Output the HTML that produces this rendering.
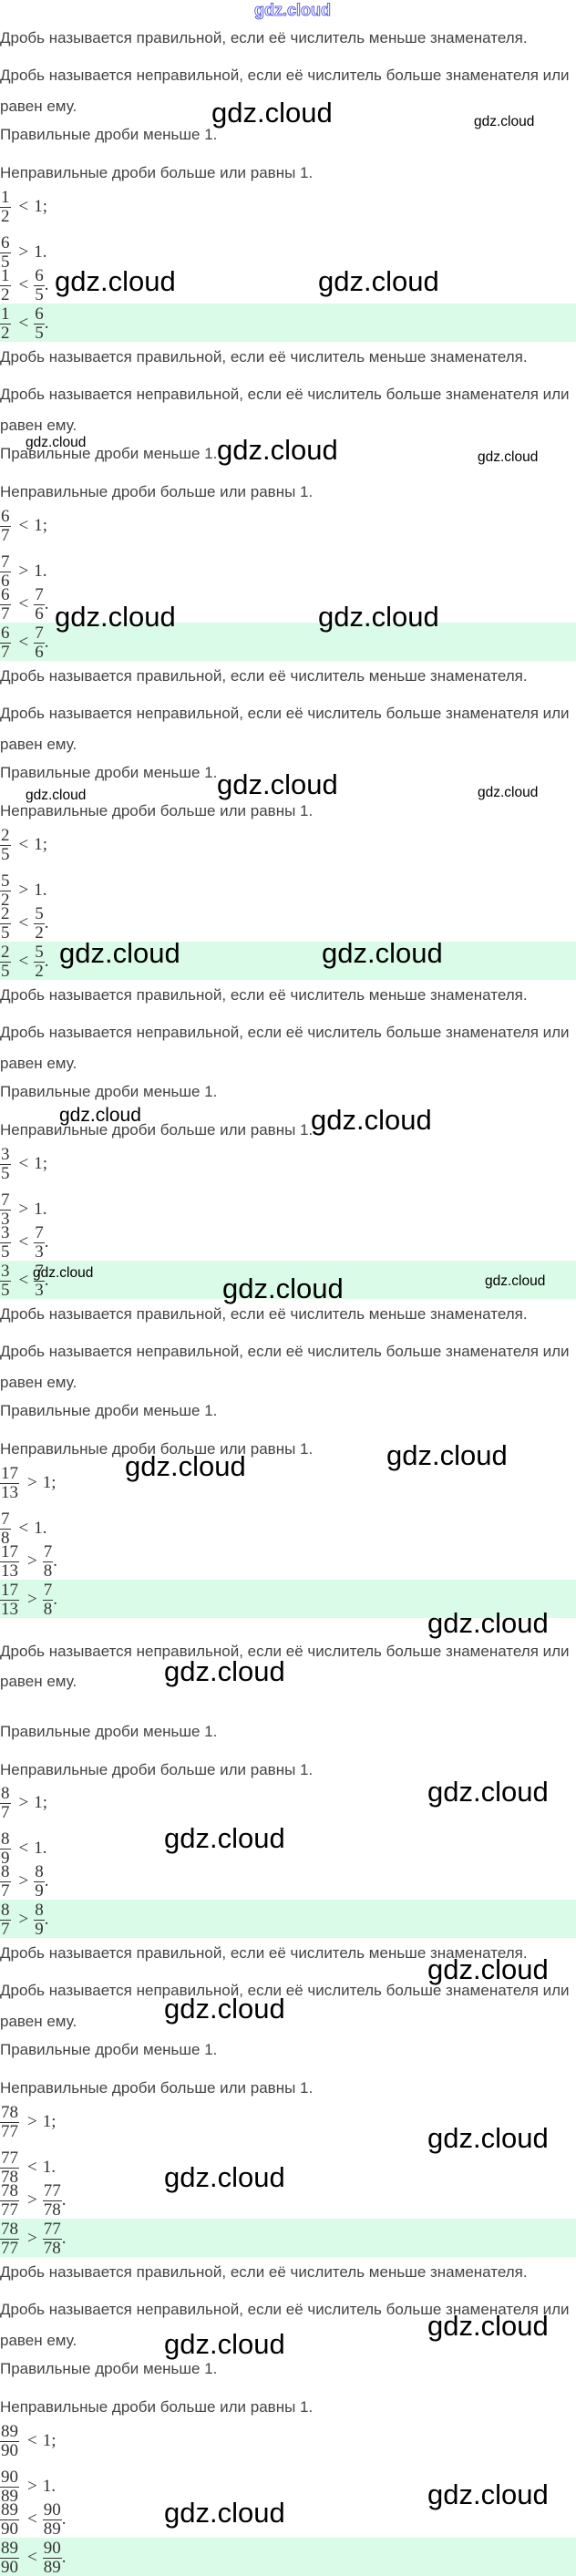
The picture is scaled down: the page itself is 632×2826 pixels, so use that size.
<!DOCTYPE html>
<html><head><meta charset="utf-8">
<style>
html,body{margin:0;padding:0;background:#fff;}
body{width:632px;height:2826px;position:relative;overflow:hidden;}
.t{position:absolute;left:0;font:17px/20px "Liberation Sans",sans-serif;color:#444;white-space:nowrap;}
.m{position:absolute;left:0;height:40px;display:flex;align-items:center;font:19px "Liberation Serif",serif;color:#333;white-space:nowrap;}
.f{display:inline-flex;flex-direction:column;align-items:center;line-height:20px;}
.f>span:first-child{border-bottom:1px solid #333;padding:0 1px;}
.o{margin:0 6px 0 9px;}
.g{position:absolute;left:0;width:632px;height:42px;background:#dafbe7;overflow:hidden;}
.w{position:absolute;font-family:"Liberation Sans",sans-serif;color:#000;line-height:1;white-space:nowrap;z-index:5;}
.L{font-size:31px;}
.S{font-size:15.5px;}
.M{font-size:21px;}
.logo{position:absolute;left:279px;top:2px;font:bold 18px/1 "Liberation Sans",sans-serif;color:#fff;-webkit-text-stroke:0.8px #3a3adf;}
</style></head><body>
<div class="logo">gdz.cloud</div>

<!-- Block 1 -->
<div class="t" style="top:32px">Дробь называется правильной, если её числитель меньше знаменателя.</div>
<div class="t" style="top:73px">Дробь называется неправильной, если её числитель больше знаменателя или</div>
<div class="t" style="top:107px">равен ему.</div>
<div class="t" style="top:138px">Правильные дроби меньше 1.</div>
<div class="t" style="top:180px">Неправильные дроби больше или равны 1.</div>
<div class="m" style="top:207px"><span class="f"><span>1</span><span>2</span></span><span class="o">&lt;</span>1;</div>
<div class="m" style="top:257px"><span class="f"><span>6</span><span>5</span></span><span class="o">&gt;</span>1.</div>
<div class="m" style="top:293px"><span class="f"><span>1</span><span>2</span></span><span class="o">&lt;</span><span class="f"><span>6</span><span>5</span></span>.</div>
<div class="g" style="top:333px"><div class="m" style="top:2px"><span class="f"><span>1</span><span>2</span></span><span class="o">&lt;</span><span class="f"><span>6</span><span>5</span></span>.</div></div>

<!-- Block 2 -->
<div class="t" style="top:382px">Дробь называется правильной, если её числитель меньше знаменателя.</div>
<div class="t" style="top:423px">Дробь называется неправильной, если её числитель больше знаменателя или</div>
<div class="t" style="top:457px">равен ему.</div>
<div class="t" style="top:488px">Правильные дроби меньше 1.</div>
<div class="t" style="top:530px">Неправильные дроби больше или равны 1.</div>
<div class="m" style="top:557px"><span class="f"><span>6</span><span>7</span></span><span class="o">&lt;</span>1;</div>
<div class="m" style="top:607px"><span class="f"><span>7</span><span>6</span></span><span class="o">&gt;</span>1.</div>
<div class="m" style="top:643px"><span class="f"><span>6</span><span>7</span></span><span class="o">&lt;</span><span class="f"><span>7</span><span>6</span></span>.</div>
<div class="g" style="top:683px"><div class="m" style="top:2px"><span class="f"><span>6</span><span>7</span></span><span class="o">&lt;</span><span class="f"><span>7</span><span>6</span></span>.</div></div>

<!-- Block 3 -->
<div class="t" style="top:732px">Дробь называется правильной, если её числитель меньше знаменателя.</div>
<div class="t" style="top:773px">Дробь называется неправильной, если её числитель больше знаменателя или</div>
<div class="t" style="top:807px">равен ему.</div>
<div class="t" style="top:838px">Правильные дроби меньше 1.</div>
<div class="t" style="top:880px">Неправильные дроби больше или равны 1.</div>
<div class="m" style="top:907px"><span class="f"><span>2</span><span>5</span></span><span class="o">&lt;</span>1;</div>
<div class="m" style="top:957px"><span class="f"><span>5</span><span>2</span></span><span class="o">&gt;</span>1.</div>
<div class="m" style="top:993px"><span class="f"><span>2</span><span>5</span></span><span class="o">&lt;</span><span class="f"><span>5</span><span>2</span></span>.</div>
<div class="g" style="top:1033px"><div class="m" style="top:2px"><span class="f"><span>2</span><span>5</span></span><span class="o">&lt;</span><span class="f"><span>5</span><span>2</span></span>.</div></div>

<!-- Block 4 -->
<div class="t" style="top:1082px">Дробь называется правильной, если её числитель меньше знаменателя.</div>
<div class="t" style="top:1123px">Дробь называется неправильной, если её числитель больше знаменателя или</div>
<div class="t" style="top:1157px">равен ему.</div>
<div class="t" style="top:1188px">Правильные дроби меньше 1.</div>
<div class="t" style="top:1230px">Неправильные дроби больше или равны 1.</div>
<div class="m" style="top:1257px"><span class="f"><span>3</span><span>5</span></span><span class="o">&lt;</span>1;</div>
<div class="m" style="top:1307px"><span class="f"><span>7</span><span>3</span></span><span class="o">&gt;</span>1.</div>
<div class="m" style="top:1343px"><span class="f"><span>3</span><span>5</span></span><span class="o">&lt;</span><span class="f"><span>7</span><span>3</span></span>.</div>
<div class="g" style="top:1383px"><div class="m" style="top:2px"><span class="f"><span>3</span><span>5</span></span><span class="o">&lt;</span><span class="f"><span>7</span><span>3</span></span>.</div></div>

<!-- Block 5 -->
<div class="t" style="top:1432px">Дробь называется правильной, если её числитель меньше знаменателя.</div>
<div class="t" style="top:1473px">Дробь называется неправильной, если её числитель больше знаменателя или</div>
<div class="t" style="top:1507px">равен ему.</div>
<div class="t" style="top:1538px">Правильные дроби меньше 1.</div>
<div class="t" style="top:1580px">Неправильные дроби больше или равны 1.</div>
<div class="m" style="top:1607px"><span class="f"><span>17</span><span>13</span></span><span class="o">&gt;</span>1;</div>
<div class="m" style="top:1657px"><span class="f"><span>7</span><span>8</span></span><span class="o">&lt;</span>1.</div>
<div class="m" style="top:1693px"><span class="f"><span>17</span><span>13</span></span><span class="o">&gt;</span><span class="f"><span>7</span><span>8</span></span>.</div>
<div class="g" style="top:1733px"><div class="m" style="top:2px"><span class="f"><span>17</span><span>13</span></span><span class="o">&gt;</span><span class="f"><span>7</span><span>8</span></span>.</div></div>

<!-- Block 6 -->
<div class="t" style="top:1802px">Дробь называется неправильной, если её числитель больше знаменателя или</div>
<div class="t" style="top:1835px">равен ему.</div>
<div class="t" style="top:1890px">Правильные дроби меньше 1.</div>
<div class="t" style="top:1932px">Неправильные дроби больше или равны 1.</div>
<div class="m" style="top:1958px"><span class="f"><span>8</span><span>7</span></span><span class="o">&gt;</span>1;</div>
<div class="m" style="top:2008px"><span class="f"><span>8</span><span>9</span></span><span class="o">&lt;</span>1.</div>
<div class="m" style="top:2044px"><span class="f"><span>8</span><span>7</span></span><span class="o">&gt;</span><span class="f"><span>8</span><span>9</span></span>.</div>
<div class="g" style="top:2084px"><div class="m" style="top:2px"><span class="f"><span>8</span><span>7</span></span><span class="o">&gt;</span><span class="f"><span>8</span><span>9</span></span>.</div></div>

<!-- Block 7 -->
<div class="t" style="top:2133px">Дробь называется правильной, если её числитель меньше знаменателя.</div>
<div class="t" style="top:2174px">Дробь называется неправильной, если её числитель больше знаменателя или</div>
<div class="t" style="top:2208px">равен ему.</div>
<div class="t" style="top:2239px">Правильные дроби меньше 1.</div>
<div class="t" style="top:2281px">Неправильные дроби больше или равны 1.</div>
<div class="m" style="top:2308px"><span class="f"><span>78</span><span>77</span></span><span class="o">&gt;</span>1;</div>
<div class="m" style="top:2358px"><span class="f"><span>77</span><span>78</span></span><span class="o">&lt;</span>1.</div>
<div class="m" style="top:2394px"><span class="f"><span>78</span><span>77</span></span><span class="o">&gt;</span><span class="f"><span>77</span><span>78</span></span>.</div>
<div class="g" style="top:2434px"><div class="m" style="top:2px"><span class="f"><span>78</span><span>77</span></span><span class="o">&gt;</span><span class="f"><span>77</span><span>78</span></span>.</div></div>

<!-- Block 8 -->
<div class="t" style="top:2483px">Дробь называется правильной, если её числитель меньше знаменателя.</div>
<div class="t" style="top:2524px">Дробь называется неправильной, если её числитель больше знаменателя или</div>
<div class="t" style="top:2558px">равен ему.</div>
<div class="t" style="top:2589px">Правильные дроби меньше 1.</div>
<div class="t" style="top:2631px">Неправильные дроби больше или равны 1.</div>
<div class="m" style="top:2658px"><span class="f"><span>89</span><span>90</span></span><span class="o">&lt;</span>1;</div>
<div class="m" style="top:2708px"><span class="f"><span>90</span><span>89</span></span><span class="o">&gt;</span>1.</div>
<div class="m" style="top:2744px"><span class="f"><span>89</span><span>90</span></span><span class="o">&lt;</span><span class="f"><span>90</span><span>89</span></span>.</div>
<div class="g" style="top:2784px"><div class="m" style="top:2px"><span class="f"><span>89</span><span>90</span></span><span class="o">&lt;</span><span class="f"><span>90</span><span>89</span></span>.</div></div>

<!-- Watermarks -->
<div class="w L" style="left:232px;top:108px">gdz.cloud</div>
<div class="w S" style="left:520px;top:126px">gdz.cloud</div>
<div class="w L" style="left:60px;top:293px">gdz.cloud</div>
<div class="w L" style="left:349px;top:293px">gdz.cloud</div>

<div class="w S" style="left:28px;top:478px">gdz.cloud</div>
<div class="w L" style="left:238px;top:478px">gdz.cloud</div>
<div class="w S" style="left:524px;top:494px">gdz.cloud</div>
<div class="w L" style="left:60px;top:661px">gdz.cloud</div>
<div class="w L" style="left:349px;top:661px">gdz.cloud</div>

<div class="w L" style="left:238px;top:845px">gdz.cloud</div>
<div class="w S" style="left:28px;top:865px">gdz.cloud</div>
<div class="w S" style="left:524px;top:862px">gdz.cloud</div>
<div class="w L" style="left:65px;top:1030px">gdz.cloud</div>
<div class="w L" style="left:353px;top:1030px">gdz.cloud</div>

<div class="w M" style="left:65px;top:1213px">gdz.cloud</div>
<div class="w L" style="left:341px;top:1213px">gdz.cloud</div>
<div class="w S" style="left:36px;top:1389px">gdz.cloud</div>
<div class="w L" style="left:244px;top:1398px">gdz.cloud</div>
<div class="w S" style="left:532px;top:1398px">gdz.cloud</div>

<div class="w L" style="left:137px;top:1593px">gdz.cloud</div>
<div class="w L" style="left:424px;top:1581px">gdz.cloud</div>
<div class="w L" style="left:469px;top:1765px">gdz.cloud</div>
<div class="w L" style="left:180px;top:1818px">gdz.cloud</div>

<div class="w L" style="left:469px;top:1950px">gdz.cloud</div>
<div class="w L" style="left:180px;top:2001px">gdz.cloud</div>
<div class="w L" style="left:469px;top:2145px">gdz.cloud</div>
<div class="w L" style="left:180px;top:2188px">gdz.cloud</div>

<div class="w L" style="left:469px;top:2330px">gdz.cloud</div>
<div class="w L" style="left:180px;top:2373px">gdz.cloud</div>
<div class="w L" style="left:469px;top:2536px">gdz.cloud</div>
<div class="w L" style="left:180px;top:2556px">gdz.cloud</div>
<div class="w L" style="left:469px;top:2721px">gdz.cloud</div>
<div class="w L" style="left:180px;top:2741px">gdz.cloud</div>
</body></html>
